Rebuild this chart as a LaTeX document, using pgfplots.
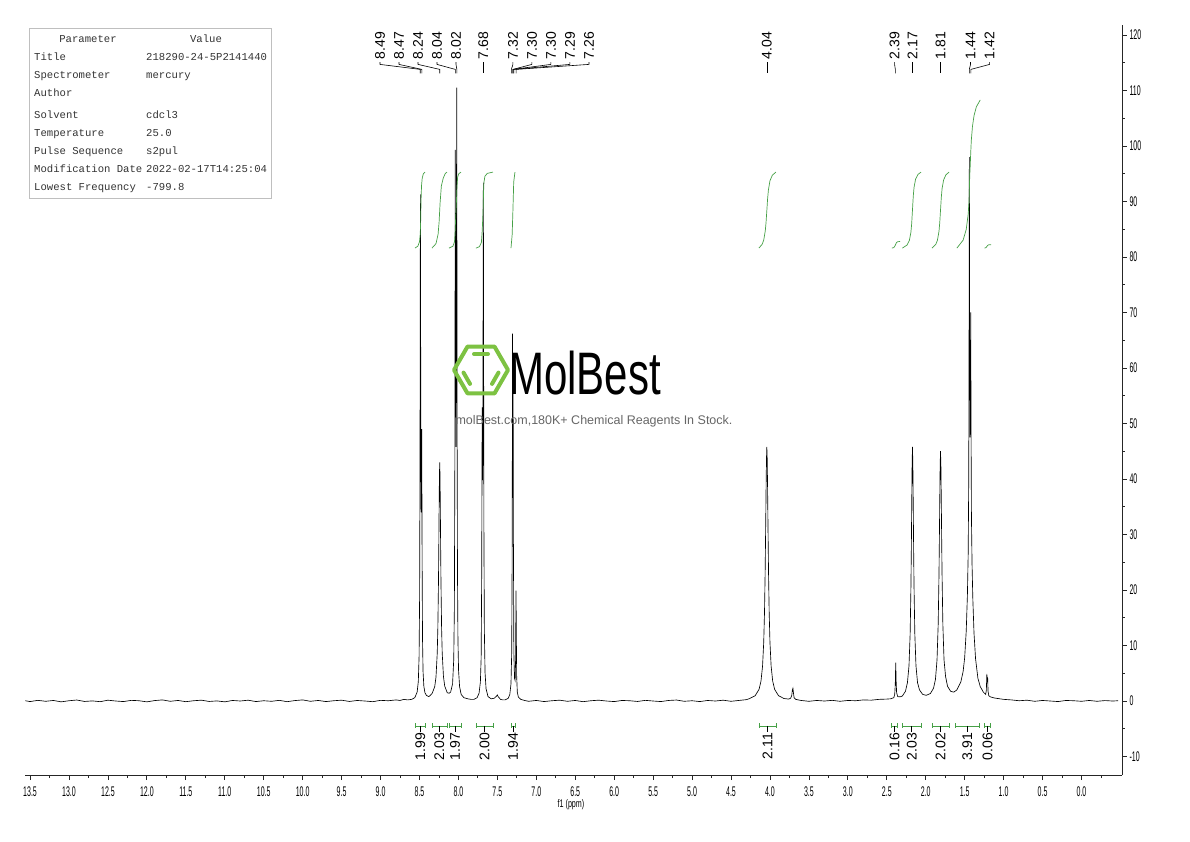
\documentclass[border=0pt]{standalone}
\usepackage{fontspec}
\setmainfont{Liberation Sans}
\usepackage{pgfplots}
\pgfplotsset{compat=1.18}
\newfontfamily\tickfont[FakeStretch=0.5]{Liberation Sans}
\newfontfamily\labfont[FakeStretch=0.65]{Liberation Sans}
\newfontfamily\monofont{Liberation Mono}
\newfontfamily\wmfont[FakeStretch=0.7]{Liberation Sans}
\definecolor{intgreen}{RGB}{70,160,70}
\definecolor{logogreen}{RGB}{125,194,66}

% peak label: label ppm, peak ppm, text
\newcommand{\pk}[3]{%
  \node[rotate=90, anchor=west, inner sep=0pt, font=\fontsize{14}{14}\selectfont] at (axis cs:#1,115.6) {#3};
  \draw[line width=0.6pt] (axis cs:#1,115.1) -- (axis cs:#1,114.7) -- (axis cs:#2,113.8) -- (axis cs:#2,113.1);}
% integration bracket: from, to, centre, value
\newcommand{\ig}[4]{%
  \draw[intgreen, line width=0.7pt] (axis cs:#1,-4.5) -- (axis cs:#2,-4.5);
  \draw[intgreen, line width=0.7pt] (axis cs:#1,-4.05) -- (axis cs:#1,-4.95);
  \draw[intgreen, line width=0.7pt] (axis cs:#2,-4.05) -- (axis cs:#2,-4.95);
  \draw[line width=0.6pt] (axis cs:#3,-4.5) -- (axis cs:#3,-5.5);
  \node[rotate=90, anchor=east, inner sep=0pt, font=\fontsize{14}{14}\selectfont] at (axis cs:#3,-5.7) {#4};}

\begin{document}
\begin{tikzpicture}[x=1pt,y=1pt]
\path[use as bounding box] (0,0) rectangle (1190,841);
\begin{axis}[
    at={(25pt,66pt)}, anchor=south west,
    scale only axis, width=1097pt, height=750pt,
    x dir=reverse,
    xmin=-0.52, xmax=13.565,
    ymin=-13.33, ymax=121.8,
    axis x line*=bottom, axis y line*=right,
    axis line style={black!85, line width=0.8pt},
    xtick={0,0.5,...,13.5},
    minor xtick={-0.25,0.25,...,13.25},
    ytick={-10,0,...,120},
    minor ytick={-5,5,...,115},
    tick align=outside,
    major tick length=5pt, minor tick length=3pt,
    tick style={black!85, line width=0.8pt},
    /pgf/number format/assume math mode=true,
    tick label style={font=\tickfont\fontsize{14}{14}\selectfont},
    xticklabel style={/pgf/number format/fixed, /pgf/number format/fixed zerofill,
        /pgf/number format/precision=1, yshift=-3pt},
    yticklabel style={/pgf/number format/fixed, xshift=-1pt},
    clip=false,
]
% spectrum
\addplot[black, line width=0.65pt] coordinates {
(13.56,0.05) (13.5,-0.1) (13.4,0.12) (13.3,-0.05) (13.2,0.1) (13.1,-0.15) (13.0,0.05)
(12.9,0.18) (12.8,-0.08) (12.7,0.02) (12.6,-0.12) (12.5,0.15) (12.4,0.0) (12.3,-0.1)
(12.2,0.12) (12.1,0.05) (12.0,-0.15) (11.9,0.08) (11.8,0.2) (11.7,-0.05) (11.6,0.1)
(11.5,-0.12) (11.4,0.05) (11.3,0.15) (11.2,-0.08) (11.1,0.02) (11.0,-0.15) (10.9,0.1)
(10.8,0.0) (10.7,0.15) (10.6,-0.1) (10.5,0.05) (10.4,-0.05) (10.3,0.12) (10.2,-0.12)
(10.1,0.08) (10.0,0.2) (9.9,-0.05) (9.8,0.1) (9.7,-0.1) (9.6,0.05) (9.5,0.15)
(9.4,-0.08) (9.3,0.1) (9.2,0.0) (9.1,-0.12) (9.0,0.12) (8.9,0.05) (8.8,0.2) (8.75,0.1)
(8.7,0.3) (8.65,0.2)
(8.60,0.3) (8.56,0.6) (8.53,1.6) (8.515,3.5) (8.505,8.0) (8.498,19.0) (8.493,46)
(8.488,91.3) (8.484,59.1) (8.480,34.6) (8.476,34.0) (8.471,49.0) (8.466,25.3)
(8.461,11.3) (8.454,5.3) (8.444,2.7) (8.43,1.5) (8.41,1.0) (8.38,0.8)
(8.37,0.9) (8.336,1.4) (8.304,2.6) (8.288,4.3) (8.272,8.6) (8.264,13.2) (8.256,21.5)
(8.252,27.5) (8.248,34.4) (8.244,40.5) (8.240,43) (8.236,40.5) (8.232,34.4)
(8.228,27.5) (8.224,21.5) (8.216,13.2) (8.208,8.6) (8.192,4.4) (8.176,2.7)
(8.144,1.5) (8.12,1.4) (8.10,1.6)
(8.075,3.1) (8.06,7.5) (8.052,16.7) (8.046,42) (8.043,73.1) (8.040,99.3) (8.037,77.8)
(8.034,52.8) (8.031,45.8) (8.028,56.5) (8.025,85.5) (8.022,110.5) (8.019,81.5)
(8.016,45.6) (8.012,23.2) (8.006,11) (7.998,5.5) (7.985,2.6) (7.965,1.2) (7.93,0.6)
(7.88,0.4) (7.84,0.3)
(7.80,0.3) (7.76,0.6) (7.735,1.4) (7.718,3.4) (7.708,7.8) (7.701,22.8) (7.695,52.9)
(7.690,39.8) (7.686,46.9) (7.683,71.9) (7.680,93.4) (7.677,68.6) (7.673,32)
(7.667,12.8) (7.658,5.1) (7.645,2.2) (7.62,0.8) (7.58,0.4) (7.54,0.5) (7.51,0.9)
(7.50,1.1) (7.49,0.8) (7.46,0.3) (7.43,0.2)
(7.40,0.2) (7.36,0.5) (7.34,1.2) (7.325,3.1) (7.316,8.6) (7.310,26) (7.305,66.2)
(7.3015,56.6) (7.298,58.5) (7.294,29.2) (7.288,8.6) (7.280,4.1) (7.272,3.7)
(7.266,7.2) (7.262,16.2) (7.260,19.9) (7.257,13) (7.252,4.5) (7.244,1.6) (7.23,0.7)
(7.20,0.3) (7.15,0.1)
(7.1,-0.05) (7.0,0.1) (6.9,-0.1) (6.8,0.05) (6.7,0.15) (6.6,-0.05) (6.5,0.1)
(6.4,-0.12) (6.3,0.05) (6.2,0.15) (6.1,0.0) (6.0,-0.1) (5.9,0.1) (5.8,0.05)
(5.7,-0.08) (5.6,0.12) (5.5,0.0) (5.4,-0.1) (5.3,0.1) (5.2,0.18) (5.1,-0.05)
(5.0,0.05) (4.9,-0.1) (4.8,0.1) (4.7,0.0) (4.6,0.15) (4.5,-0.05) (4.4,0.1) (4.3,0.25)
(4.26,0.45) (4.19,0.96) (4.14,2.1) (4.115,3.6) (4.095,6.3) (4.08,10.6) (4.07,16)
(4.062,22.9) (4.055,31.3) (4.05,37.9) (4.045,43.5) (4.04,45.8) (4.035,43.5)
(4.03,37.9) (4.025,31.3) (4.018,22.9) (4.01,16) (4.0,10.6) (3.985,6.3) (3.965,3.6)
(3.94,2.1) (3.89,0.96) (3.82,0.45) (3.76,0.35)
(3.735,0.5) (3.72,1.0) (3.712,2.0) (3.705,2.3) (3.698,1.4) (3.69,0.6) (3.67,0.3)
(3.6,0.1) (3.5,-0.05) (3.4,0.1) (3.3,0.0) (3.2,0.12) (3.1,-0.05) (3.0,0.1) (2.9,0.05)
(2.8,0.2) (2.7,0.15) (2.6,0.3) (2.5,0.35)
(2.45,0.4) (2.41,0.6) (2.398,1.2) (2.391,3.0) (2.385,6.9) (2.380,3.65) (2.374,1.55)
(2.36,0.8) (2.33,0.75)
(2.30,0.9) (2.26,1.76) (2.235,3.3) (2.215,6.3) (2.20,12.1) (2.19,20.5) (2.185,27)
(2.18,35) (2.175,42.5) (2.17,45.8) (2.165,42.5) (2.16,35) (2.155,27) (2.15,20.5)
(2.14,12.1) (2.125,6.3) (2.105,3.3) (2.08,2.0) (2.04,1.2) (2.0,1.05)
(1.99,1.05) (1.94,1.35) (1.90,2.3) (1.875,3.9) (1.855,7.4) (1.84,13.8) (1.83,22.5)
(1.825,28.8) (1.82,36) (1.815,42.4) (1.81,45) (1.805,42.4) (1.80,36) (1.795,28.8)
(1.79,22.5) (1.78,13.8) (1.765,7.4) (1.745,4.4) (1.72,2.65) (1.68,1.75) (1.64,1.6)
(1.60,2.0) (1.55,3.4) (1.52,5.3) (1.50,7.8) (1.48,12.6) (1.465,19) (1.455,26.4)
(1.448,39.4) (1.444,61.9) (1.440,98) (1.436,66) (1.431,47.5) (1.426,53.8) (1.422,70)
(1.418,48.7) (1.413,33.2) (1.405,24.5) (1.395,18.3) (1.38,12.2) (1.36,7.6) (1.33,4.1)
(1.30,2.6) (1.26,1.6) (1.23,1.2) (1.222,1.9) (1.218,3.6) (1.215,4.9) (1.211,3.4)
(1.205,4.25) (1.200,1.8) (1.19,0.95) (1.17,0.75) (1.12,0.55) (1.05,0.4)
(1.0,0.3) (0.9,0.2) (0.8,0.05) (0.7,0.15) (0.6,-0.05) (0.5,0.1) (0.4,0.0) (0.3,-0.1)
(0.2,0.1) (0.1,0.05) (0.0,-0.05) (-0.1,0.1) (-0.2,-0.05) (-0.3,0.08) (-0.4,0.0)
(-0.47,0.05)
};
% integral curves
\addplot[intgreen, line width=0.7pt] coordinates {(8.558,81.6) (8.52,81.97) (8.50,82.73) (8.49,84.2) (8.485,86.4) (8.480,90.0) (8.474,92.8) (8.465,94.2) (8.45,95.0) (8.429,95.3)};
\addplot[intgreen, line width=0.7pt] coordinates {(8.34,81.6) (8.288,82.4) (8.261,84.1) (8.248,86.3) (8.235,89.8) (8.219,92.8) (8.195,94.2) (8.17,95.0) (8.147,95.3)};
\addplot[intgreen, line width=0.7pt] coordinates {(8.121,81.6) (8.07,81.95) (8.05,82.77) (8.043,84.3) (8.037,86.5) (8.031,88.3) (8.025,90.1) (8.019,92.5) (8.010,94.4) (7.995,95.0) (7.967,95.3)};
\addplot[intgreen, line width=0.7pt] coordinates {(7.775,81.6) (7.73,81.86) (7.705,82.63) (7.695,84.65) (7.688,86.77) (7.682,89.05) (7.678,91.46) (7.672,93.47) (7.660,94.53) (7.63,95.06) (7.556,95.3)};
\addplot[intgreen, line width=0.7pt] coordinates {(7.325,81.6) (7.31,84.0) (7.30,88.5) (7.29,93.5) (7.274,95.3)};
\addplot[intgreen, line width=0.7pt] coordinates {(4.142,81.6) (4.10,82.29) (4.08,83.05) (4.06,84.7) (4.05,86.26) (4.04,88.39) (4.03,90.52) (4.02,92.07) (4.00,93.72) (3.97,94.72) (3.924,95.3)};
\addplot[intgreen, line width=0.7pt] coordinates {(2.435,81.6) (2.41,81.7) (2.395,82.0) (2.385,82.3) (2.375,82.6) (2.36,82.75) (2.33,82.8)};
\addplot[intgreen, line width=0.7pt] coordinates {(2.30,81.6) (2.24,82.15) (2.21,82.98) (2.19,84.47) (2.18,86.07) (2.17,88.51) (2.16,90.95) (2.15,92.55) (2.13,94.04) (2.10,94.87) (2.06,95.3)};
\addplot[intgreen, line width=0.7pt] coordinates {(1.92,81.6) (1.87,82.3) (1.85,83.0) (1.83,84.58) (1.82,86.17) (1.81,88.45) (1.80,90.73) (1.79,92.32) (1.77,93.9) (1.74,94.82) (1.70,95.3)};
\addplot[intgreen, line width=0.7pt] coordinates {(1.60,81.6) (1.52,83.03) (1.48,84.96) (1.455,87.7) (1.445,89.87) (1.440,92.19) (1.435,94.59) (1.428,96.7) (1.422,98.83) (1.415,100.96) (1.40,103.51) (1.38,105.46) (1.35,107.05) (1.30,108.3)};
\addplot[intgreen, line width=0.7pt] coordinates {(1.245,81.6) (1.225,81.7) (1.215,81.9) (1.205,82.1) (1.19,82.2) (1.16,82.2)};
% peak labels
\pk{9.007}{8.49}{8.49}
\pk{8.763}{8.47}{8.47}
\pk{8.519}{8.24}{8.24}
\pk{8.275}{8.04}{8.04}
\pk{8.031}{8.02}{8.02}
\pk{7.68}{7.68}{7.68}
\pk{7.300}{7.32}{7.32}
\pk{7.056}{7.30}{7.30}
\pk{6.812}{7.30}{7.30}
\pk{6.568}{7.29}{7.29}
\pk{6.324}{7.26}{7.26}
\pk{4.04}{4.04}{4.04}
\pk{2.40}{2.39}{2.39}
\pk{2.17}{2.17}{2.17}
\pk{1.81}{1.81}{1.81}
\pk{1.425}{1.44}{1.44}
\pk{1.18}{1.42}{1.42}
% integrations
\ig{8.558}{8.429}{8.49}{1.99}
\ig{8.34}{8.147}{8.244}{2.03}
\ig{8.121}{7.967}{8.044}{1.97}
\ig{7.775}{7.556}{7.665}{2.00}
\ig{7.325}{7.274}{7.30}{1.94}
\ig{4.142}{3.924}{4.033}{2.11}
\ig{2.435}{2.37}{2.40}{0.16}
\ig{2.30}{2.06}{2.18}{2.03}
\ig{1.92}{1.70}{1.81}{2.02}
\ig{1.62}{1.31}{1.465}{3.91}
\ig{1.245}{1.17}{1.2075}{0.06}
\end{axis}
% x label
\node[font=\labfont\fontsize{11}{11}\selectfont] at (571,36) {f1 (ppm)};
% parameter table
\draw[black!25, fill=white] (29,643) rectangle (271,813);
\begin{scope}[every node/.style={inner sep=0pt, text=black!80, font=\monofont\fontsize{10.6}{12}\selectfont}]
\node[anchor=base] at (88,798) {Parameter};
\node[anchor=base] at (206,798) {Value};
\node[anchor=base west] at (34,780) {Title};
\node[anchor=base west] at (146,780) {218290-24-5P2141440};
\node[anchor=base west] at (34,762) {Spectrometer};
\node[anchor=base west] at (146,762) {mercury};
\node[anchor=base west] at (34,744) {Author};
\node[anchor=base west] at (34,722) {Solvent};
\node[anchor=base west] at (146,722) {cdcl3};
\node[anchor=base west] at (34,704) {Temperature};
\node[anchor=base west] at (146,704) {25.0};
\node[anchor=base west] at (34,686) {Pulse Sequence};
\node[anchor=base west] at (146,686) {s2pul};
\node[anchor=base west] at (34,668) {Modification Date};
\node[anchor=base west] at (146,668) {2022-02-17T14:25:04};
\node[anchor=base west] at (34,650) {Lowest Frequency};
\node[anchor=base west] at (146,650) {-799.8};
\end{scope}
% watermark
\draw[logogreen, line width=4pt, line join=round] (508,471) -- (494.5,494.4) -- (467.5,494.4) -- (454,471) -- (467.5,447.6) -- (494.5,447.6) -- cycle;
\draw[logogreen, line width=4pt, line cap=round] (474,487) -- (488,487);
\draw[logogreen, line width=4pt, line cap=round, shorten <=3pt, shorten >=3pt] (462,471) -- (471.5,454.5);
\draw[logogreen, line width=4pt, line cap=round, shorten <=3pt, shorten >=3pt] (490.5,454.5) -- (500,471);
\node[anchor=base west, inner sep=0pt, font=\wmfont\fontsize{60}{60}\selectfont] at (509,446) {MolBest};
\node[inner sep=0pt, text=black!60, font=\fontsize{12.5}{12.5}\selectfont] at (594,420) {molBest.com,180K+ Chemical Reagents In Stock.};
\end{tikzpicture}
\end{document}
